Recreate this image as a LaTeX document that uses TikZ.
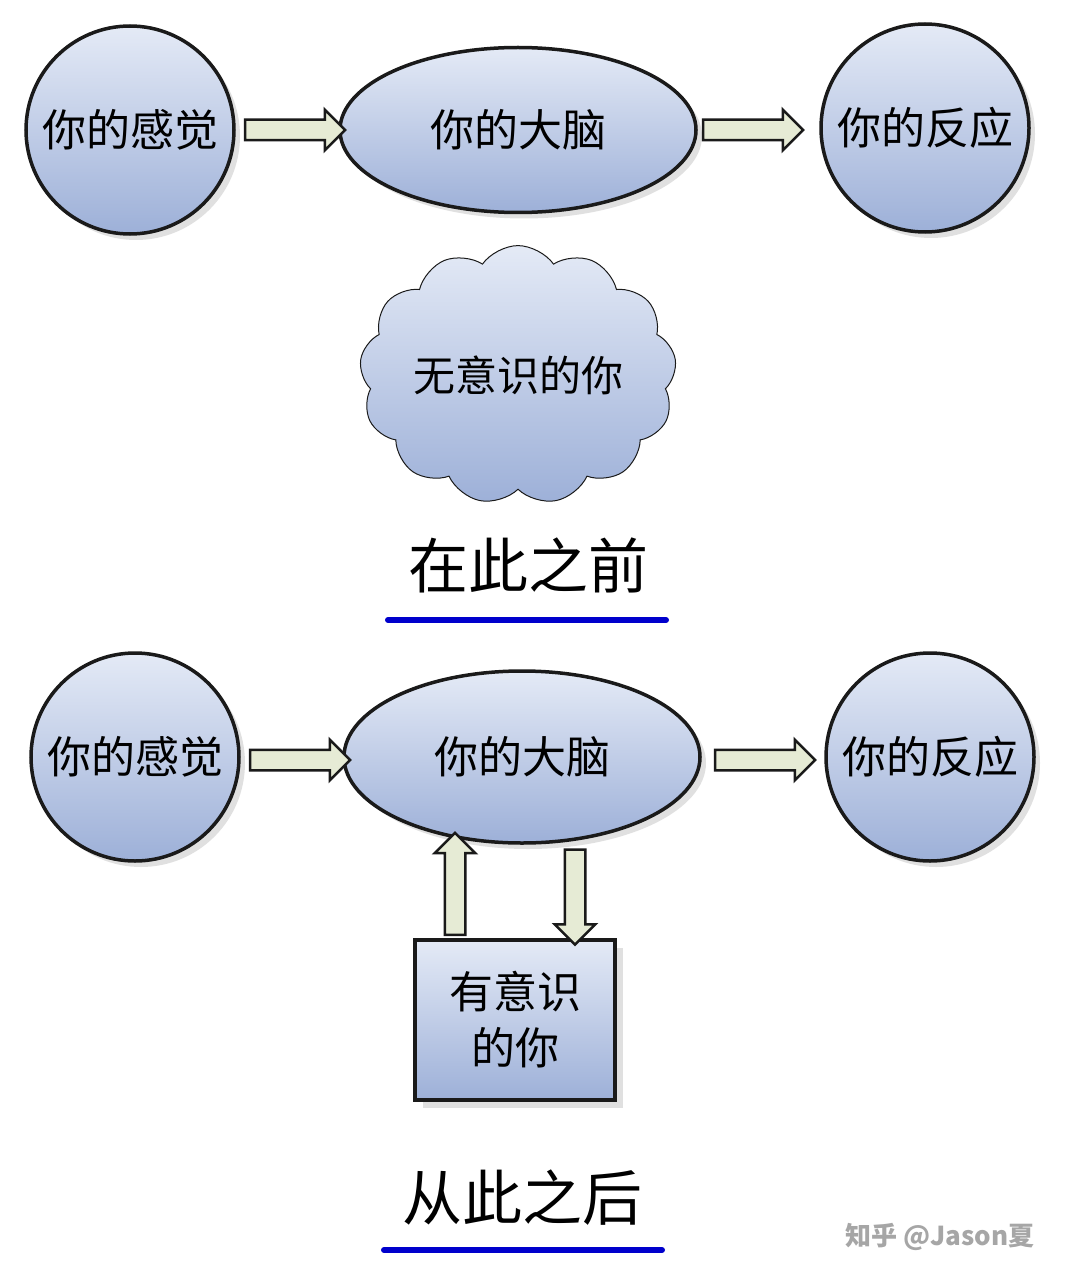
\documentclass[tikz,border=0pt]{standalone}
\usepackage{fontspec}
\newfontfamily\cjk{Noto Sans CJK SC}
\usetikzlibrary{shapes.geometric,shapes.arrows,shapes.symbols,shadows}
\definecolor{edge}{HTML}{1A1A1A}
\definecolor{afill}{HTML}{E6EBD5}
\definecolor{topc}{HTML}{E4EAF6}
\definecolor{botc}{HTML}{9DB0D8}
\tikzset{
  bub/.style={draw=edge,line width=3.5pt,top color=topc,bottom color=botc,
    drop shadow={shadow xshift=6pt,shadow yshift=-6pt,fill=gray!40,opacity=.6},font=\cjk\fontsize{44}{48}\selectfont,inner sep=0pt},
  circ/.style={bub,circle,minimum size=208pt},
  ell/.style={bub,ellipse,minimum width=356pt,minimum height=165pt},
  barr/.style={single arrow,draw=edge,line width=2.5pt,fill=afill,minimum width=40pt,single arrow head extend=10pt,inner sep=9pt,single arrow head indent=0pt},
  ttl/.style={font=\cjk\fontsize{60}{64}\selectfont},
  ul/.style={line width=6pt,color=blue!80!black,line cap=round},
}
\begin{document}
\begin{tikzpicture}[x=1pt,y=-1pt]
\useasboundingbox[fill=white] (0,0) rectangle (1080,1281);
% top
\node[circ] (s1) at (130,130) {你的感觉};
\node[ell] (b1) at (518,130) {你的大脑};
\node[circ] (r1) at (925,128) {你的反应};
\node[barr,minimum height=100pt] (a1) at (290,130) {};
\node[barr,minimum height=100pt] (a2) at (748,130) {};
\node[cloud,cloud puffs=13,cloud puff arc=110,aspect=1.3,draw=edge,line width=1pt,top color=topc,bottom color=botc,minimum width=265pt,minimum height=205pt,font=\cjk\fontsize{42}{46}\selectfont,inner sep=0pt] (u) at (518,375) {无意识的你};
\node[ttl] (t1) at (528,565) {在此之前};
\draw[ul] (388,620) -- (666,620);
% bottom
\node[circ] (s2) at (135,757) {你的感觉};
\node[ell,minimum height=172pt] (b2) at (522,757) {你的大脑};
\node[circ] (r2) at (930,757) {你的反应};
\node[barr,minimum height=100pt] (a3) at (295,760) {};
\node[barr,minimum height=100pt] (a4) at (760,760) {};
\node[draw=edge,line width=3.5pt,top color=topc,bottom color=botc,minimum width=200pt,minimum height=160pt,
  drop shadow={shadow xshift=8pt,shadow yshift=-8pt,fill=gray!40,opacity=.6},align=center,
  font=\cjk\fontsize{44}{56}\selectfont] (c) at (515,1020) {有意识\\的你};
\node[barr,minimum height=102pt,shape border rotate=90] (a5) at (455,889) {};
\node[barr,minimum height=95pt,shape border rotate=270] (a6) at (575,892) {};
\node[ttl] (t2) at (522,1198) {从此之后};
\draw[ul] (384,1250) -- (662,1250);
\node[text=gray!70,font=\cjk\bfseries\fontsize{26}{30}\selectfont] (wm) at (940,1237) {知乎 @Jason夏};
\end{tikzpicture}
\end{document}
